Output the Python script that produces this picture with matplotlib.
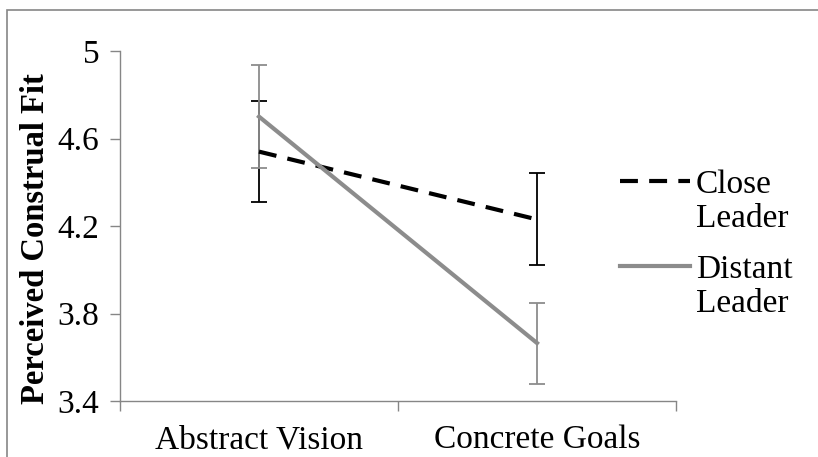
import matplotlib.pyplot as plt
from matplotlib.lines import Line2D
from matplotlib.patches import Rectangle

# condition means and error bar half-widths
conditions = ["Abstract Vision", "Concrete Goals"]
close_mean = [4.54, 4.23]
close_err = [0.23, 0.21]
distant_mean = [4.70, 3.665]
distant_err = [0.235, 0.185]

yticks = [3.4, 3.8, 4.2, 4.6, 5.0]
ytick_labels = ["3.4", "3.8", "4.2", "4.6", "5"]

plt.rcParams['font.family'] = ['Liberation Serif', 'DejaVu Serif']
AXIS_GRAY = "#868686"
DIST_GRAY = "#8c8c8c"
DASH = (0, (4.3, 2.7))

fig = plt.figure(figsize=(8.18, 4.57), dpi=100)
W, H = 818, 457

# outer chart frame
fig.patches.append(Rectangle((7 / W, -0.1), 1.2, 1 - 10 / H + 0.1,
                             transform=fig.transFigure, fill=False,
                             edgecolor=AXIS_GRAY, linewidth=1.2))

ax = fig.add_axes([120 / W, 1 - 401 / H, (676 - 120) / W, (401 - 51) / H])

x = [0.5, 1.5]
ax.errorbar(x, close_mean, yerr=close_err, fmt='none', ecolor='black',
            elinewidth=1.3, capsize=5.5, capthick=1.3, zorder=2)
ax.errorbar(x, distant_mean, yerr=distant_err, fmt='none', ecolor=DIST_GRAY,
            elinewidth=1.3, capsize=5.5, capthick=1.3, zorder=2)
ax.plot(x, close_mean, color='black', linestyle=DASH, linewidth=3, zorder=3)
ax.plot(x, distant_mean, color=DIST_GRAY, linewidth=3, zorder=3)

ax.set_xlim(0, 2)
ax.set_ylim(3.4, 5.0)
ax.set_yticks(yticks)
ax.set_yticklabels(ytick_labels, fontsize=24)
ax.set_xticks([0, 1, 2])
ax.set_xticklabels([])
ax.set_xticks(x, minor=True)
ax.set_xticklabels(conditions, minor=True, fontsize=24)
ax.tick_params(axis='x', which='major', direction='out', length=7,
               color=AXIS_GRAY, width=1)
ax.tick_params(axis='x', which='minor', length=0, pad=17)
ax.tick_params(axis='y', direction='out', length=7, color=AXIS_GRAY, width=1,
               pad=8)

for side in ['top', 'right']:
    ax.spines[side].set_visible(False)
for side in ['left', 'bottom']:
    ax.spines[side].set_color(AXIS_GRAY)
    ax.spines[side].set_linewidth(1)

ax.set_ylabel("Perceived Construal Fit", fontsize=23.5, fontweight='bold')
ax.yaxis.set_label_coords(-0.125, 0.463)

# legend drawn beside the plot
def legend_entry(y_px, first, second, **style):
    fig.lines.append(Line2D([620 / W, 690 / W], [1 - y_px / H, 1 - y_px / H],
                            transform=fig.transFigure, linewidth=3, **style))
    fig.text(696 / W, 1 - y_px / H, first, fontsize=24, va='center_baseline')
    fig.text(696 / W, 1 - (y_px + 34) / H, second, fontsize=24,
             va='center_baseline')

legend_entry(181, "Close", "Leader", color='black', linestyle=DASH)
legend_entry(266, "Distant", "Leader", color=DIST_GRAY)

fig.savefig("out.png", dpi=100)
